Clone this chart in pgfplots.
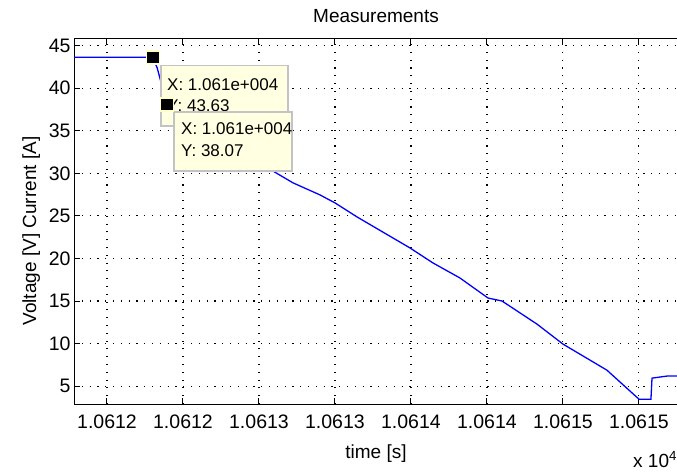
\documentclass[border=0pt]{standalone}
\usepackage{fontspec}
\setmainfont{Liberation Sans}
\usepackage{pgfplots}
\pgfplotsset{compat=1.18}
\definecolor{tipbg}{RGB}{255,255,225}
\definecolor{tipedge}{RGB}{195,195,195}
\definecolor{tipmarkedge}{RGB}{255,255,200}
\begin{document}
\begin{tikzpicture}
\begin{axis}[
  at={(74pt,68pt)}, anchor=south west,
  width=616pt, height=366pt, scale only axis,
  xmin=10611.783, xmax=10615.836, ymin=2.9, ymax=45.9,
  xtick={10612,10612.5,10613,10613.5,10614,10614.5,10615,10615.5},
  xticklabels={1.0612,1.0612,1.0613,1.0613,1.0614,1.0614,1.0615,1.0615},
  ytick={5,10,15,20,25,30,35,40,45},
  scaled x ticks=false,
  grid=major,
  major grid style={black, line width=1.1pt, dash pattern=on 1.1pt off 6.7pt},
  tick align=inside, major tick length=6pt,
  tick style={black, line width=1pt},
  axis line style={black, line width=1pt},
  ticklabel style={font=\fontsize{19.5}{21}\selectfont},
  xticklabel style={yshift=-7pt},
  /pgf/number format/assume math mode=true,
  clip=true,
]
\addplot[blue, line width=1.3pt] coordinates {
  (10611.75,43.63) (10612.300,43.63) (10612.33,42.41) (10612.395,38.07)
  (10613.112,30.06) (10613.224,28.88) (10613.401,27.47) (10613.500,26.53)
  (10613.645,24.88) (10613.993,21.24) (10614.145,19.47) (10614.322,17.71)
  (10614.507,15.35) (10614.599,15.00) (10614.829,12.29) (10615.000,9.94)
  (10615.289,6.88) (10615.500,3.47) (10615.579,3.47) (10615.586,5.94)
  (10615.684,6.18) (10615.901,6.18)
};
% datatip box 1
\draw[tipedge, line width=1.5pt, fill=tipbg] (axis cs:10612.355,42.647) rectangle (axis cs:10613.191,35.588);
\node[anchor=base west, inner sep=0pt, font=\fontsize{17}{19}\selectfont] at (axis cs:10612.395,39.706) {X: 1.061e+004};
\node[anchor=base west, inner sep=0pt, font=\fontsize{17}{19}\selectfont] at (axis cs:10612.395,37.235) {Y: 43.63};
% datatip markers
\addplot[only marks, mark=square*, mark size=6.5pt, mark options={fill=black, draw=tipmarkedge, line width=1.5pt}] coordinates {
  (10612.303,43.63) (10612.395,38.07)
};
% datatip box 2
\draw[tipedge, line width=1.5pt, fill=tipbg] (axis cs:10612.441,37.235) rectangle (axis cs:10613.217,30.294);
\node[anchor=base west, inner sep=0pt, font=\fontsize{17}{19}\selectfont] at (axis cs:10612.487,34.529) {X: 1.061e+004};
\node[anchor=base west, inner sep=0pt, font=\fontsize{17}{19}\selectfont] at (axis cs:10612.487,31.941) {Y: 38.07};
\end{axis}
\node[anchor=base, font=\fontsize{19}{21}\selectfont] at (376pt,449pt) {Measurements};
\node[anchor=base, font=\fontsize{19}{21}\selectfont] at (376pt,14pt) {time [s]};
\node[anchor=base west, inner sep=0pt, font=\fontsize{19}{21}\selectfont] at (633pt,5pt) {x 10\textsuperscript{4}};
\node[anchor=base, rotate=90, font=\fontsize{19}{21}\selectfont] at (36pt,241pt) {Voltage [V] Current [A]};
\pgfresetboundingbox
\path (0,0) rectangle (677pt,472pt);
\end{tikzpicture}
\end{document}
